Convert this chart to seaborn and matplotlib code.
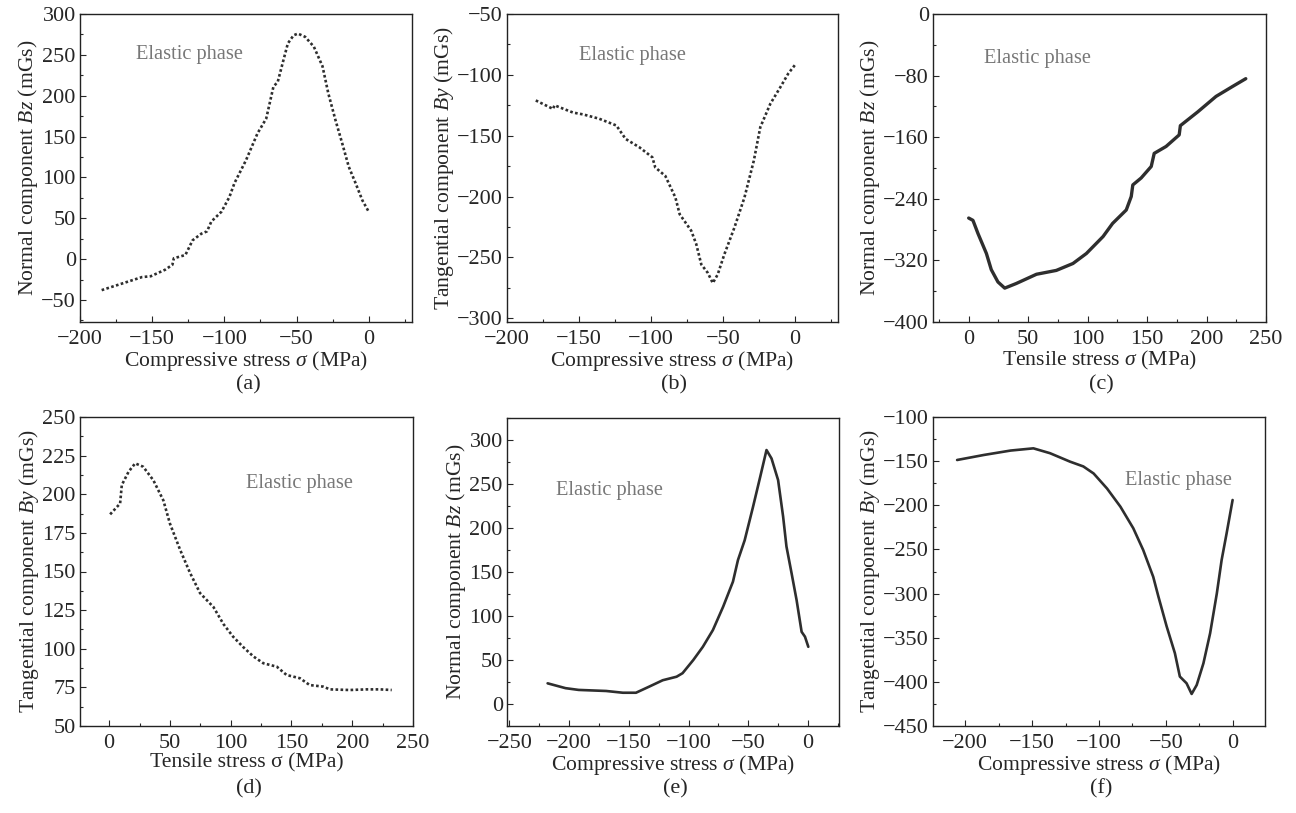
import matplotlib.pyplot as plt
import seaborn as sns
import pandas as pd
from matplotlib.ticker import AutoMinorLocator, MultipleLocator

# (a) compressive stress vs normal component Bz
a_x = [-185, -171, -157, -151, -141, -136, -135, -127, -122, -116, -112, -109, -102, -96.5, -93,
       -85, -77, -71, -66, -63, -59, -56, -52, -49, -44, -38, -32, -28, -23, -18.4, -13.8, -9.1, -4.4, 0]
a_y = [-38, -30, -22, -21, -13, -7, 1, 5, 23, 31, 34, 46, 58, 76, 93,
       121, 154, 172, 211, 217, 244, 264, 274, 276, 272, 260, 236, 203, 170, 142, 113, 93, 72, 58]

# (b) compressive stress vs tangential component By
b_x = [-180, -168, -167, -154, -147, -136, -124, -117.6, -108, -99, -97, -90, -83, -80, -72, -68.5,
       -65, -60.5, -57, -53.6, -49, -42, -35, -28.5, -24, -17, -10, -4.6, 0]
b_y = [-121, -128, -125, -131, -132.5, -136, -141.6, -152.6, -159.5, -167.7, -176, -183, -200.7, -214.5,
       -228, -239, -255.7, -262.6, -271, -264, -247.5, -225.5, -200.7, -170.5, -143, -123.7, -110, -99, -92]

# (c) tensile stress vs normal component Bz
c_x = [0, 3.6, 7.8, 14.9, 19, 24.6, 30.3, 40, 57, 73.7, 87.7, 99, 113, 121, 132.5, 136.7, 138,
       145, 153.5, 156, 166, 177, 178, 192.7, 208, 222, 233]
c_y = [-265, -268, -285, -311, -332, -348, -356, -350, -338, -333, -324, -311, -289, -272, -254.5,
       -237, -222, -213, -198, -181, -172, -157, -145, -127, -107, -94, -84]

# (d) tensile stress vs tangential component By
d_x = [0.8, 9, 10.4, 16, 21.4, 28, 36.4, 44.6, 50, 58.4, 66.6, 74.8, 85.8, 94, 102, 110.4, 118.7,
       126.9, 137.9, 146, 157, 165, 176, 181.7, 198, 212, 223, 232.5]
d_y = [187, 194, 206, 214.6, 220, 217.8, 209, 196, 181, 164, 149, 136, 127, 116, 107.8, 101, 95,
       90.6, 88.4, 83, 80.9, 76.5, 75.5, 73.7, 73.3, 73.7, 73.7, 73.3]

# (e) compressive stress vs normal component Bz
e_x = [-218, -203, -192, -169, -155, -144, -133, -121.6, -110, -105, -96, -88, -79.6, -71, -62.8,
       -58.6, -53, -46, -40, -34.7, -30.5, -25, -20.8, -18, -13.7, -9.5, -5.3, -2.5, 0.3]
e_y = [23.5, 18, 16, 14.8, 12.8, 12.8, 19.7, 27, 31, 35, 50, 65, 84, 110.6, 139,
       163.6, 186, 224, 258, 288.6, 279, 254.5, 213, 179, 148.5, 118, 82, 76.5, 65]

# (f) compressive stress vs tangential component By
f_x = [-206, -186, -166, -149, -136.6, -121.6, -111.7, -104, -94, -84, -74.4, -67, -59.5, -55.7,
       -49.5, -43.3, -39.6, -34.6, -30.8, -27, -22, -17, -12, -8.4, -4.7, -0.2]
f_y = [-148.7, -143, -138, -135.5, -141, -150.6, -156, -164, -181, -201.6, -226, -250.6, -281, -303,
       -337, -367.6, -394, -401.6, -413.7, -403.5, -379, -345, -300, -262, -232, -194]

panels = [
    ("a", a_x, a_y, r"Compressive stress $\sigma$ (MPa)", r"Normal component $Bz$ (mGs)",
     (-200, 30), (-77, 300), 50, 50, (0.33, 0.867)),
    ("b", b_x, b_y, r"Compressive stress $\sigma$ (MPa)", r"Tangential component $By$ (mGs)",
     (-200, 30), (-303, -50), 50, 50, (0.38, 0.864)),
    ("c", c_x, c_y, r"Tensile stress $\sigma$ (MPa)", r"Normal component $Bz$ (mGs)",
     (-30, 250), (-400, 0), 50, 80, (0.315, 0.857)),
    ("d", d_x, d_y, "Tensile stress σ (MPa)", r"Tangential component $By$ (mGs)",
     (-24, 250), (50, 250), 50, 25, (0.66, 0.786)),
    ("e", e_x, e_y, r"Compressive stress $\sigma$ (MPa)", r"Normal component $Bz$ (mGs)",
     (-252, 26), (-25, 325), 50, 50, (0.31, 0.766)),
    ("f", f_x, f_y, r"Compressive stress $\sigma$ (MPa)", r"Tangential component $By$ (mGs)",
     (-224, 24), (-450, -100), 50, 50, (0.738, 0.796)),
]

sns.set_style("ticks")
plt.rcParams["font.family"] = ["Liberation Serif", "DejaVu Serif"]
plt.rcParams["mathtext.fontset"] = "custom"
plt.rcParams["mathtext.rm"] = "Liberation Serif"
plt.rcParams["mathtext.it"] = "Liberation Serif:italic"

fig = plt.figure(figsize=(12.96, 8.13), dpi=100)

# axes boxes in pixels: left, top, right, bottom
boxes = [(80, 14, 412, 322), (507, 14, 838, 322), (933, 14, 1266, 322),
         (80, 417, 413, 726), (507, 418, 839, 726), (933, 417, 1265, 726)]
W, H = 1296, 813

dotted = (0, (1.0, 0.9))
line_styles = {"a": (dotted, 1.9), "b": (dotted, 1.9), "c": ("-", 2.4),
               "d": (dotted, 1.9), "e": ("-", 1.9), "f": ("-", 1.9)}

for (tag, xs, ys, xl, yl, xlim, ylim, xstep, ystep, tpos), (l, t, r, b) in zip(panels, boxes):
    ax = fig.add_axes([l / W, 1 - b / H, (r - l) / W, (b - t) / H])
    df = pd.DataFrame({"x": xs, "y": ys})
    ls, lw = line_styles[tag]
    sns.lineplot(data=df, x="x", y="y", ax=ax, sort=False, estimator=None,
                 color="#2e2e2e", linestyle=ls, linewidth=lw)
    ax.set_xlim(*xlim)
    ax.set_ylim(*ylim)
    ax.xaxis.set_major_locator(MultipleLocator(xstep))
    ax.yaxis.set_major_locator(MultipleLocator(ystep))
    ax.xaxis.set_minor_locator(AutoMinorLocator(2))
    ax.yaxis.set_minor_locator(AutoMinorLocator(2))
    ax.tick_params(which="both", direction="in", labelsize=16, length=4, width=0.8)
    ax.tick_params(which="minor", length=2.5)
    ax.tick_params(axis="x", pad=6)
    ax.tick_params(axis="y", pad=3)
    for s in ax.spines.values():
        s.set_linewidth(1.0)
        s.set_color("#222222")
    ax.set_xlabel(xl, fontsize=15.6, labelpad=0)
    ax.set_ylabel(yl, fontsize=15.6, labelpad=1)
    ax.text(tpos[0], tpos[1], "Elastic phase", transform=ax.transAxes, fontsize=14.7,
            color="#777777", ha="center", va="center")
    fig.text(((l + r) / 2 + 2) / W, 1 - (b + 63) / H, f"({tag})", fontsize=16,
             ha="center", va="center")

plt.savefig("out.png", dpi=100)
